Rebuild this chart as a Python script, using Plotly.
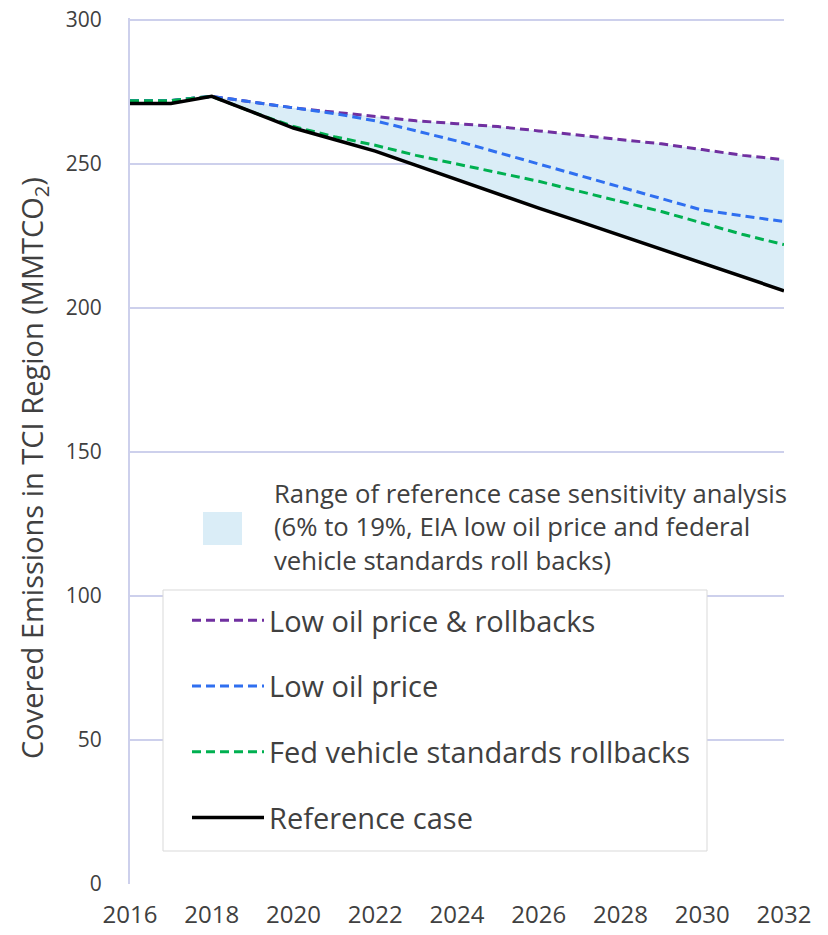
import plotly.graph_objects as go

years = list(range(2016, 2033))
reference = [271, 271, 273.5, 268, 262.5, 258.5, 254.5, 249.5, 244.5, 239.5, 234.7, 230, 225.2, 220.4, 215.6, 210.6, 206]
fed_rollbacks = [272, 272, 273.5, 268, 263, 259.5, 256.5, 253, 250, 247, 244, 240.5, 237, 233.5, 229.5, 225.5, 222]
low_oil = [272, 272, 273.5, 271.5, 269.5, 267.5, 265, 261.5, 258, 254, 250, 246, 242, 238, 234, 232, 230]
low_oil_rollbacks = [272, 272, 273.5, 271.5, 269.5, 268, 266.5, 265, 264, 263, 261.5, 260, 258.5, 257, 255, 253, 251.5]

range_start = 2  # index of 2018
range_label = "Range of reference case sensitivity analysis<br>(6% to 19%, EIA low oil price and federal<br>vehicle standards roll backs)"
y_title = "Covered Emissions in TCI Region (MMTCO<sub>2</sub>)"

x_ticks = list(range(2016, 2033, 2))
y_ticks = [0, 50, 100, 150, 200, 250, 300]

FONT = "Open Sans"
GRID = "#CDD0EC"
FILL = "#DAEDF7"
TXT = "#404040"

# plot area in page pixels (body margin removed)
PL, PR, PT, PB = 130, 784, 18, 884
PW, PH = PR - PL, PB - PT


def px(x):
    return (x - PL) / PW


def py(y):
    return (PB - y) / PH


fig = go.Figure()

fig.add_trace(go.Scatter(x=years[range_start:], y=low_oil_rollbacks[range_start:], mode="lines",
                         line=dict(width=0), showlegend=False, hoverinfo="skip"))
fig.add_trace(go.Scatter(x=years[range_start:], y=reference[range_start:], mode="lines",
                         line=dict(width=0), fill="tonexty", fillcolor=FILL,
                         showlegend=False, hoverinfo="skip"))

dash = "9px,5px"
fig.add_trace(go.Scatter(x=years, y=low_oil_rollbacks, mode="lines", name="Low oil price & rollbacks",
                         line=dict(color="#7030A0", width=3, dash=dash), legendgroup="a"))
fig.add_trace(go.Scatter(x=years, y=low_oil, mode="lines", name="Low oil price",
                         line=dict(color="#2F6FF0", width=3, dash=dash), legendgroup="b"))
fig.add_trace(go.Scatter(x=years, y=fed_rollbacks, mode="lines", name="Fed vehicle standards rollbacks",
                         line=dict(color="#00B050", width=3, dash=dash), legendgroup="c"))
fig.add_trace(go.Scatter(x=years, y=reference, mode="lines", name="Reference case",
                         line=dict(color="#000000", width=3.5), legendgroup="d"))

# legend frame
fig.add_shape(type="rect", xref="paper", yref="paper",
              x0=px(163), x1=px(707), y0=py(851), y1=py(590),
              fillcolor="white", line=dict(color="#D9D9D9", width=1), layer="above")
# range key
fig.add_shape(type="rect", xref="paper", yref="paper",
              x0=px(203), x1=px(242), y0=py(545), y1=py(512),
              fillcolor=FILL, line=dict(width=0), layer="above")
fig.add_annotation(xref="paper", yref="paper", x=px(272), y=py(527),
                   text=range_label, showarrow=False, xanchor="left", yanchor="middle",
                   align="left", font=dict(family=FONT, size=25.7, color=TXT))
fig.add_annotation(xref="paper", yref="paper", x=px(33), y=py(468),
                   text=y_title, showarrow=False, textangle=-90,
                   xanchor="center", yanchor="middle",
                   font=dict(family=FONT, size=29, color=TXT))

fig.update_layout(
    width=828, height=935,
    margin=dict(l=PL, r=828 - PR, t=PT, b=935 - PB, autoexpand=False),
    paper_bgcolor="white", plot_bgcolor="white",
    font=dict(family=FONT, color=TXT),
    showlegend=True,
    legend=dict(x=px(187), y=py(595), xanchor="left", yanchor="top",
                bgcolor="rgba(0,0,0,0)", borderwidth=0,
                font=dict(family=FONT, size=29, color=TXT),
                traceorder="grouped", tracegroupgap=25, itemwidth=72,
                entrywidth=500),
    xaxis=dict(range=[2016, 2032], tickvals=x_ticks, ticktext=[str(t) for t in x_ticks],
               showgrid=False, zeroline=False, showline=False, ticks="",
               ticklabelstandoff=14,
               tickfont=dict(family=FONT, size=24, color=TXT)),
    yaxis=dict(range=[0, 300.7], tickvals=y_ticks, showgrid=True, gridcolor=GRID, gridwidth=2,
               zeroline=False, showline=True, linecolor=GRID, linewidth=2, ticks="",
               ticklabelstandoff=22, ticklabeloverflow="allow",
               tickfont=dict(family=FONT, size=21, color=TXT)),
)

fig.write_html("out.html", config={"displayModeBar": False},
               post_script="document.body.style.margin='0';")
